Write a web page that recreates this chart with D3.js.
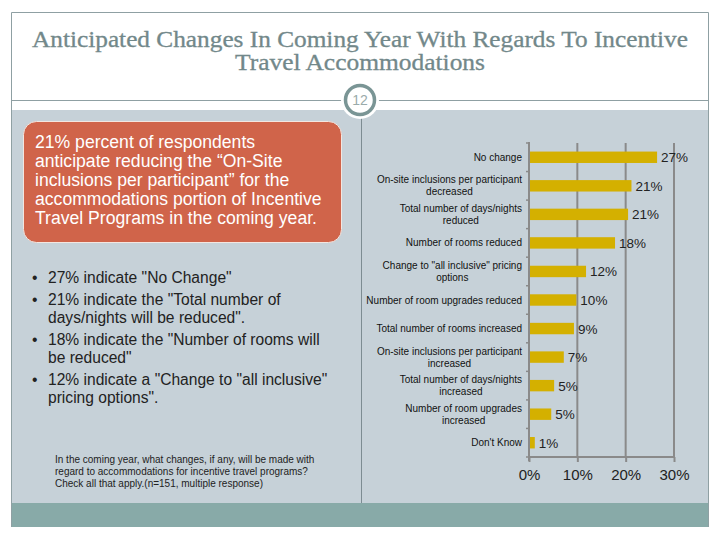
<!DOCTYPE html>
<html><head><meta charset="utf-8">
<script src="https://cdn.jsdelivr.net/npm/d3@7/dist/d3.min.js"></script>
<style>body{margin:0;background:#fff}svg{display:block}</style>
</head><body>
<script>
const categories = [
  ["No change"],
  ["On-site inclusions per participant","decreased"],
  ["Total number of days/nights","reduced"],
  ["Number of rooms reduced"],
  ["Change to \"all inclusive\" pricing","options"],
  ["Number of room upgrades reduced"],
  ["Total number of rooms increased"],
  ["On-site inclusions per participant","increased"],
  ["Total number of days/nights","increased"],
  ["Number of room upgrades","increased"],
  ["Don't Know"]
];
const values = [26.5, 21.2, 20.5, 17.8, 11.8, 9.8, 9.3, 7.2, 5.2, 4.6, 1.2];
const valueLabels = ["27%","21%","21%","18%","12%","10%","9%","7%","5%","5%","1%"];
const xTicks = [0, 10, 20, 30];
const titleLines = ["Anticipated Changes In Coming Year With Regards To Incentive","Travel Accommodations"];
const calloutLines = ["21% percent of respondents","anticipate reducing the \u201cOn-Site","inclusions per participant\u201d for the","accommodations portion of Incentive","Travel Programs in the coming year."];
const bullets = [
  ["27% indicate \"No Change\""],
  ["21% indicate the \"Total number of","days/nights will be reduced\"."],
  ["18% indicate the \"Number of rooms will","be reduced\""],
  ["12% indicate a \"Change to \"all inclusive\"","pricing options\"."]
];
const footnote = ["In the coming year, what changes, if any, will be made with","regard to accommodations for incentive travel programs?","Check all that apply.(n=151, multiple response)"];
const pageNumber = "12";

const svg = d3.select("body").append("svg").attr("width",720).attr("height",540);
const frame = "#8fa0a3";

// gray content area and teal band
svg.append("rect").attr("x",11).attr("y",110).attr("width",698).attr("height",393).attr("fill","#c6d1d8");
svg.append("rect").attr("x",11).attr("y",503).attr("width",698).attr("height",24).attr("fill","#88aaa8");
// frame lines
svg.append("path").attr("d","M11.5,527 V12.5 H708.5 V527").attr("fill","none").attr("stroke",frame).attr("stroke-width",1);
svg.append("line").attr("x1",11).attr("x2",709).attr("y1",100.5).attr("y2",100.5).attr("stroke",frame);
svg.append("line").attr("x1",361.5).attr("x2",361.5).attr("y1",110).attr("y2",503).attr("stroke","#7d8c92");

// title
const titleWidths = [656, 250];
svg.selectAll("text.title").data(titleLines).join("text")
  .attr("x",360).attr("y",(d,i)=>47+i*23).attr("text-anchor","middle")
  .attr("font-family","'Liberation Serif', serif").attr("font-size",22.5).attr("fill","#72888a")
  .attr("stroke","#72888a").attr("stroke-width",0.3)
  .attr("textLength",(d,i)=>titleWidths[i]).attr("lengthAdjust","spacingAndGlyphs")
  .text(d=>d);

// circle badge
svg.append("circle").attr("cx",360).attr("cy",100).attr("r",19).attr("fill","#fff");
svg.append("circle").attr("cx",360).attr("cy",100).attr("r",14.5).attr("fill","#fff").attr("stroke","#7a9595").attr("stroke-width",3.5);
svg.append("text").attr("x",360).attr("y",105).attr("text-anchor","middle")
  .attr("font-family","'Liberation Sans', Arial, sans-serif").attr("font-size",14).attr("fill","#9aabab").text(pageNumber);

// callout box
svg.append("rect").attr("x",23.5).attr("y",121.5).attr("width",318).attr("height",121).attr("rx",13)
  .attr("fill","#d0644a").attr("stroke","#f3e6e0").attr("stroke-width",1);
svg.selectAll("text.call").data(calloutLines).join("text")
  .attr("x",35).attr("y",(d,i)=>148+i*19)
  .attr("font-family","'Liberation Sans', Arial, sans-serif").attr("font-size",17.6).attr("fill","#fff")
  .text(d=>d);

// bullets
let by = 283;
const bg = svg.append("g").attr("font-family","'Liberation Sans', Arial, sans-serif").attr("font-size",15.6).attr("fill","#222");
bullets.forEach(lines=>{
  bg.append("text").attr("x",32).attr("y",by).text("\u2022");
  lines.forEach((l,j)=>{
    bg.append("text").attr("x",48).attr("y",by+j*18.5).text(l);
  });
  by += lines.length*18.5 + 3;
});

// footnote
svg.selectAll("text.fn").data(footnote).join("text")
  .attr("x",55).attr("y",(d,i)=>463+i*12)
  .attr("font-family","'Liberation Sans', Arial, sans-serif").attr("font-size",10).attr("fill","#222")
  .text(d=>d);

// chart
const x = d3.scaleLinear().domain([0,30]).range([529,674]);
const keys = categories.map((c,i)=>i);
const y = d3.scaleBand().domain(keys).range([143,457]).paddingInner(0.6).paddingOuter(0.3);
const step = y.step();
const gridColor = "#8a8a8a";

// gridlines
svg.selectAll("line.grid").data(xTicks.slice(1)).join("line")
  .attr("x1",d=>x(d)).attr("x2",d=>x(d)).attr("y1",143).attr("y2",457)
  .attr("stroke",gridColor).attr("stroke-width",2);

// bottom axis
const xAxis = d3.axisBottom(x).tickValues(xTicks).tickFormat(d=>d+"%").tickSize(5).tickPadding(7);
const gx = svg.append("g").attr("transform","translate(0,457)").call(xAxis);
gx.select(".domain").attr("stroke",gridColor).attr("stroke-width",2).attr("d",`M${x(0)},0H${x(30)}`);
gx.selectAll(".tick line").attr("stroke",gridColor).attr("stroke-width",2);
gx.selectAll(".tick text").attr("font-family","'Liberation Sans', Arial, sans-serif").attr("font-size",15).attr("fill","#222");

// left axis line with boundary ticks
svg.append("line").attr("x1",x(0)).attr("x2",x(0)).attr("y1",142).attr("y2",461).attr("stroke",gridColor).attr("stroke-width",2);
const bounds = keys.map(k=>y(k)-(step-y.bandwidth())/2).concat([457]);
svg.selectAll("line.yt").data(bounds).join("line")
  .attr("x1",x(0)-3).attr("x2",x(0)).attr("y1",d=>d).attr("y2",d=>d).attr("stroke",gridColor).attr("stroke-width",1.5);

// bars
svg.selectAll("rect.bar").data(values).join("rect")
  .attr("x",x(0)+1).attr("y",(d,i)=>y(i)).attr("width",d=>x(d)-x(0)-1).attr("height",y.bandwidth())
  .attr("fill","#d4b000");

// value labels
svg.selectAll("text.val").data(values).join("text")
  .attr("x",d=>x(d)+4).attr("y",(d,i)=>y(i)+y.bandwidth()/2+5)
  .attr("font-family","'Liberation Sans', Arial, sans-serif").attr("font-size",13.5).attr("fill","#222")
  .text((d,i)=>valueLabels[i]);

// category labels
const lab = svg.append("g").attr("font-family","'Liberation Sans', Arial, sans-serif").attr("font-size",10).attr("fill","#111");
categories.forEach((lines,i)=>{
  const cy = y(i)+y.bandwidth()/2;
  if(lines.length===1){
    lab.append("text").attr("x",522).attr("y",cy+3.5).attr("text-anchor","end").text(lines[0]);
  } else {
    const t = lab.append("text").attr("x",0).attr("y",-100).text(lines[0]);
    const w = t.node().getComputedTextLength(); t.remove();
    lines.forEach((l,j)=>{
      lab.append("text").attr("x",522-w/2).attr("y",cy-6+3.5+j*12).attr("text-anchor","middle").text(l);
    });
  }
});
</script>
</body></html>
